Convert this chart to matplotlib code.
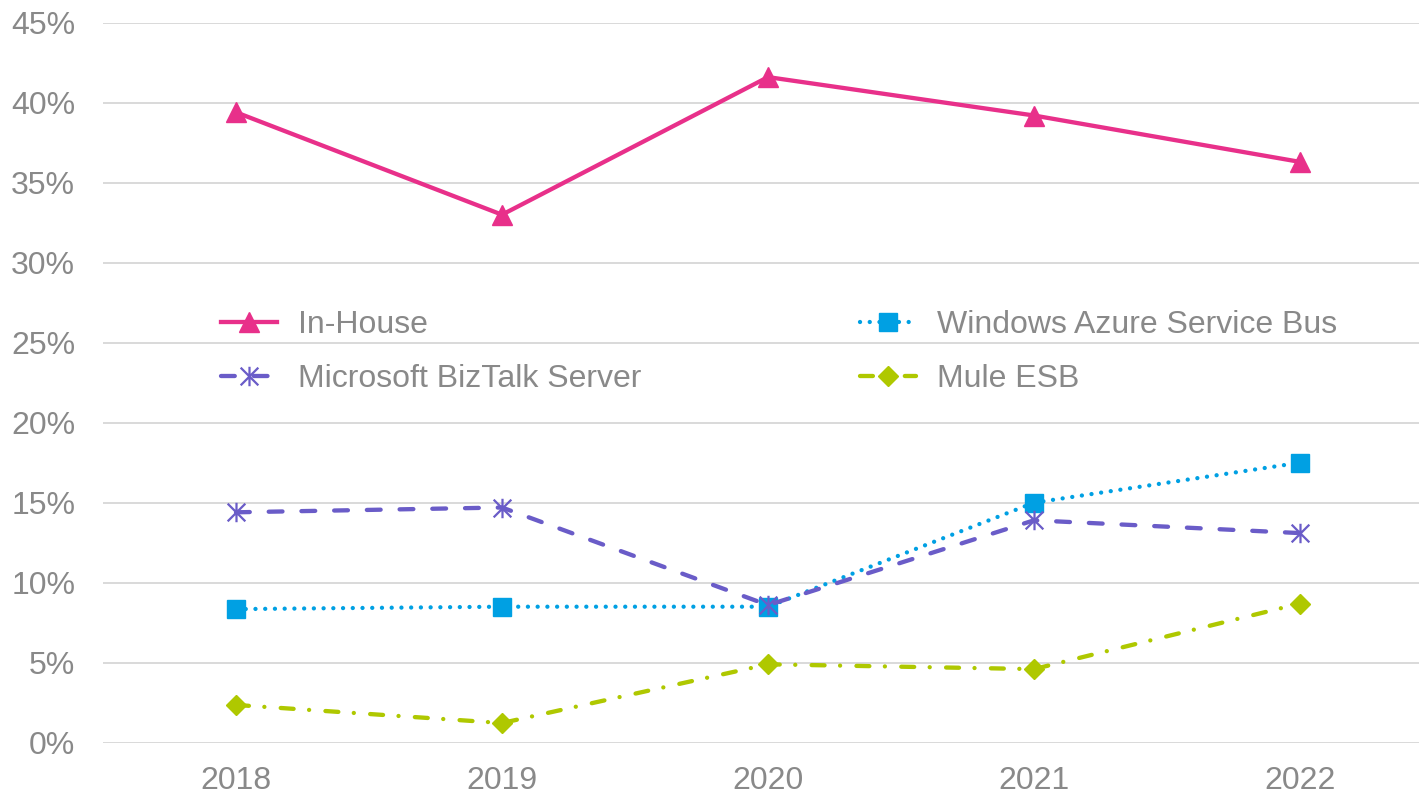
import matplotlib
matplotlib.use("Agg")
import matplotlib.pyplot as plt
from matplotlib.path import Path
from matplotlib.ticker import FuncFormatter, MultipleLocator

# data (share of respondents, %)
years = ["2018", "2019", "2020", "2021", "2022"]
in_house = [39.4, 33.0, 41.6, 39.2, 36.3]
azure_bus = [8.35, 8.5, 8.5, 15.0, 17.5]
biztalk = [14.4, 14.7, 8.6, 13.9, 13.1]
mule_esb = [2.36, 1.23, 4.9, 4.6, 8.7]

plt.rcParams["font.family"] = ["Liberation Sans", "DejaVu Sans"]
grey = "#898989"

fig = plt.figure(figsize=(14.19, 7.96), dpi=100)
ax = fig.add_axes([103 / 1419, 53.3 / 796, 1330 / 1419, 720 / 796])

x = range(len(years))

# asterisk marker: X plus a vertical bar
star = Path([(-1, -1), (1, 1), (-1, 1), (1, -1), (0, -1.1), (0, 1.1)],
            [Path.MOVETO, Path.LINETO, Path.MOVETO, Path.LINETO, Path.MOVETO, Path.LINETO])

lw = 3.1
l1, = ax.plot(x, in_house, color="#E8308A", lw=lw, marker="^", ms=14.4,
              label="In-House", zorder=3)
l2, = ax.plot(x, azure_bus, color="#00A0E3", lw=lw, marker="s", ms=12.7,
              dashes=(0.01, 2.25), dash_capstyle="round",
              label="Windows Azure Service Bus", zorder=3)
l3, = ax.plot(x, biztalk, color="#6A5CC8", lw=lw, marker=star, ms=14,
              mew=1.6, mfc="none", dashes=(3.2, 4.4), dash_capstyle="round",
              label="Microsoft BizTalk Server", zorder=4)
l4, = ax.plot(x, mule_esb, color="#AFC800", lw=lw, marker="D", ms=9.8,
              dashes=(3.0, 3.6, 0.01, 3.8), dash_capstyle="round",
              label="Mule ESB", zorder=3)

ax.set_xlim(-0.5, 4.5)
ax.set_ylim(0, 45)
ax.yaxis.set_major_locator(MultipleLocator(5))
ax.yaxis.set_major_formatter(FuncFormatter(lambda v, p: f"{v:.0f}%"))
ax.set_xticks(list(x))
ax.set_xticklabels(years)

ax.grid(axis="y", color="#D9D9D9", lw=1.4, zorder=0)
ax.set_axisbelow(True)
for s in ax.spines.values():
    s.set_visible(False)
ax.tick_params(length=0, labelsize=23, labelcolor=grey)
ax.tick_params(axis="y", pad=20)
ax.tick_params(axis="x", pad=17)

leg = fig.legend([l1, l3, l2, l4],
                 [l1.get_label(), l3.get_label(), l2.get_label(), l4.get_label()],
                 ncol=2, loc="upper left", bbox_to_anchor=(221 / 1419, 0.61),
                 frameon=False, fontsize=23, borderpad=0, borderaxespad=0,
                 handlelength=1.75, handletextpad=0.66, columnspacing=6.85,
                 labelspacing=0.75, numpoints=1)
for t in leg.get_texts():
    t.set_color(grey)

fig.savefig("out.png", dpi=100)
